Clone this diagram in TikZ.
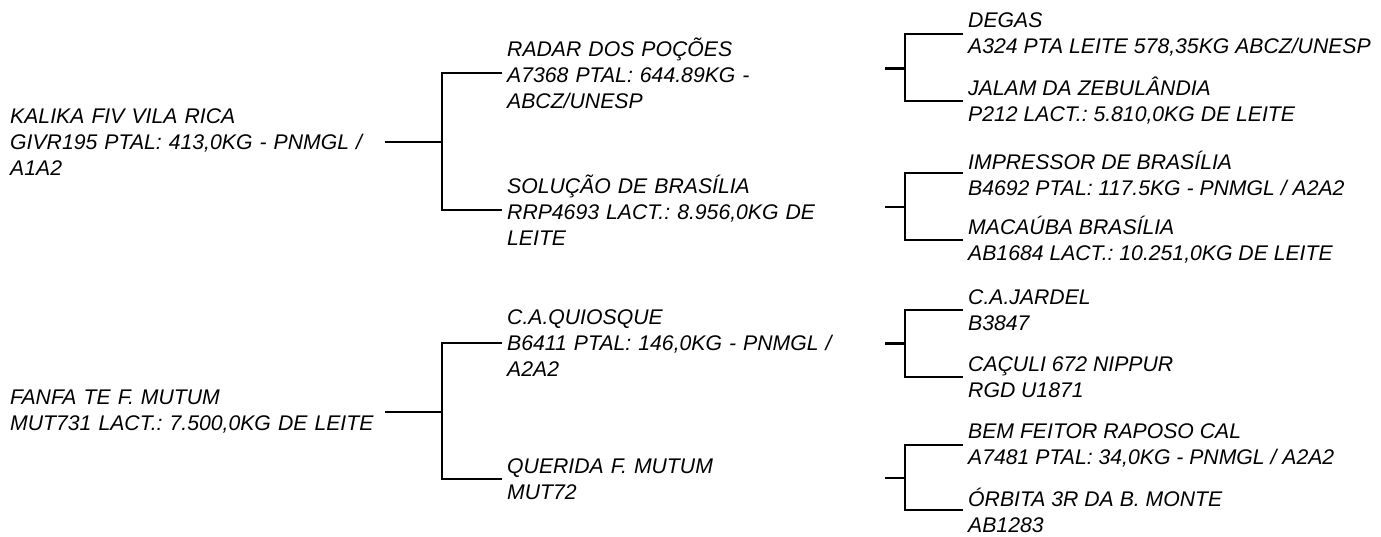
\documentclass[tikz,border=0pt]{standalone}
\usepackage{fontspec}
\setmainfont{Liberation Sans}
\frenchspacing

\begin{document}
\begin{tikzpicture}[x=0.75pt,y=-0.75pt,line width=1.8pt,
   animal/.style={anchor=west,inner sep=3pt,align=left,
      font=\fontsize{15.9}{19.5}\selectfont\itshape},
   parent/.style={animal,text width=277.5pt},
   grand/.style={animal,text width=279.75pt}]
   \useasboundingbox (0,0) rectangle (1381,536);
   % animals
   \node[parent] (p_1) at (5,142) {KALIKA FIV VILA RICA\\GIVR195 PTAL: 413,0KG - PNMGL /\\A1A2};
   \node[parent] (p_2) at (5,412) {FANFA TE F. MUTUM\\MUT731 LACT.: 7.500,0KG DE LEITE};
   \node[grand] (g_1) at (502,73) {RADAR DOS POÇÕES\\A7368 PTAL: 644.89KG -\\ABCZ/UNESP};
   \node[grand] (g_2) at (502,210) {SOLUÇÃO DE BRASÍLIA\\RRP4693 LACT.: 8.956,0KG DE\\LEITE};
   \node[grand] (g_3) at (502,343) {C.A.QUIOSQUE\\B6411 PTAL: 146,0KG - PNMGL /\\A2A2};
   \node[grand] (g_4) at (502,479) {QUERIDA F. MUTUM\\MUT72};
   \node[animal] (b_1) at (963,34)  {DEGAS\\A324 PTA LEITE 578,35KG ABCZ/UNESP};
   \node[animal] (b_2) at (963,101) {JALAM DA ZEBULÂNDIA\\P212 LACT.: 5.810,0KG DE LEITE};
   \node[animal] (b_3) at (963,173) {IMPRESSOR DE BRASÍLIA\\B4692 PTAL: 117.5KG - PNMGL / A2A2};
   \node[animal] (b_4) at (963,240) {MACAÚBA BRASÍLIA\\AB1684 LACT.: 10.251,0KG DE LEITE};
   \node[animal] (b_5) at (963,310) {C.A.JARDEL\\B3847};
   \node[animal] (b_6) at (963,377) {CAÇULI 672 NIPPUR\\RGD U1871};
   \node[animal] (b_7) at (963,445) {BEM FEITOR RAPOSO CAL\\A7481 PTAL: 34,0KG - PNMGL / A2A2};
   \node[animal] (b_8) at (963,510) {ÓRBITA 3R DA B. MONTE\\AB1283};
   % forks
   \coordinate (j_1) at (442,142);
   \coordinate (j_2) at (442,412);
   \coordinate (k_1) at (905,68.5);
   \coordinate (k_2) at (905,207);
   \coordinate (k_3) at (905,343.5);
   \coordinate (k_4) at (905,478);
   \draw (p_1.east) -- (j_1);
   \draw (p_2.east) -- (j_2);
   \draw (g_1.west) -| (j_1) |- (g_2.west);
   \draw (g_3.west) -| (j_2) |- (g_4.west);
   \draw (g_1.east |- k_1) -- (k_1);
   \draw (g_2.east |- k_2) -- (k_2);
   \draw (g_3.east |- k_3) -- (k_3);
   \draw (g_4.east |- k_4) -- (k_4);
   \draw (b_1.west) -| (k_1) |- (b_2.west);
   \draw (b_3.west) -| (k_2) |- (b_4.west);
   \draw (b_5.west) -| (k_3) |- (b_6.west);
   \draw (b_7.west) -| (k_4) |- (b_8.west);
\end{tikzpicture}
\end{document}
